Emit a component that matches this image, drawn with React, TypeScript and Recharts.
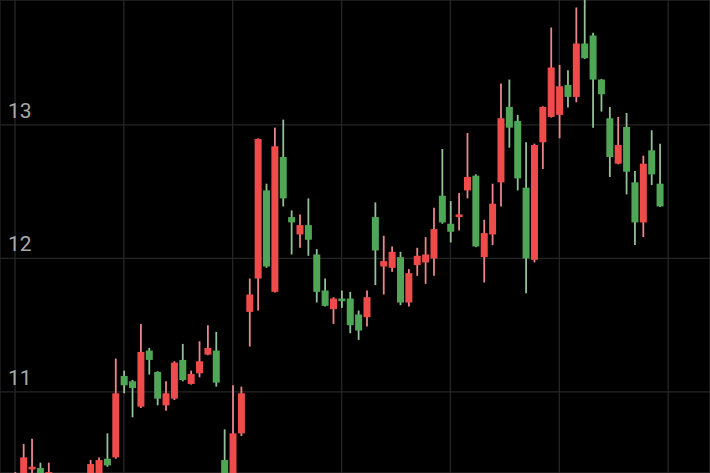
import { Bar, CartesianGrid, ComposedChart, XAxis, YAxis } from 'recharts';

// daily candles (index = trading day)
const opens = [
  10.25, 10.3, 10.42, 10.43, 10.3, 10.35, 10.15, 10.28, 10.18, 10.3,
  10.32, 10.5, 10.51, 11.12, 11.08, 10.89, 11.31, 11.15, 10.9, 10.95,
  11.24, 11.06, 11.14, 11.28, 11.31, 10.49, 10.3, 10.69, 11.6, 11.85,
  12.51, 11.75, 12.76, 12.31, 12.18, 12.25, 12.03, 11.76, 11.62, 11.7,
  11.7, 11.58, 11.56, 12.31, 11.94, 11.93, 12.01, 11.67, 11.95, 11.97,
  12.0, 12.47, 12.26, 12.31, 12.51, 12.62, 12.01, 12.18, 12.57, 13.135,
  13.03, 12.53, 11.99, 12.87, 13.06, 13.075, 13.3, 13.21, 13.61, 13.67,
  13.34, 13.05, 12.71, 12.985, 12.57, 12.27, 12.81, 12.56,
];
const highs = [
  10.4, 10.61, 10.65, 10.47, 10.47, 10.38, 10.33, 10.32, 10.36, 10.49,
  10.51, 10.69, 11.25, 11.16, 11.09, 11.51, 11.33, 11.155, 11.08, 11.23,
  11.36, 11.16, 11.38, 11.5, 11.45, 10.72, 11.05, 11.04, 11.85, 12.9,
  12.56, 12.98, 13.04, 12.36, 12.33, 12.45, 12.07, 11.85, 11.71, 11.76,
  11.75, 11.61, 11.76, 12.42, 12.17, 12.09, 12.05, 11.92, 12.08, 12.16,
  12.38, 12.82, 12.43, 12.49, 12.94, 12.63, 12.29, 12.56, 13.31, 13.34,
  13.075, 12.87, 12.86, 13.14, 13.73, 13.45, 13.41, 13.88, 14.05, 13.69,
  13.345, 13.135, 13.06, 13.09, 12.655, 12.77, 12.96, 12.86,
];
const lows = [
  10.2, 10.25, 10.35, 10.3, 10.25, 10.15, 10.1, 10.12, 10.15, 10.25,
  10.28, 10.44, 10.5, 10.99, 10.81, 10.88, 11.13, 10.9, 10.86, 10.94,
  11.08, 11.055, 11.11, 11.275, 11.04, 10.25, 10.25, 10.67, 11.34, 11.61,
  11.93, 11.745, 12.39, 12.03, 12.08, 12.02, 11.67, 11.64, 11.51, 11.63,
  11.44, 11.39, 11.49, 11.8, 11.73, 11.9, 11.65, 11.64, 11.87, 11.81,
  11.87, 12.26, 12.12, 12.21, 12.45, 12.085, 11.82, 12.1, 12.39, 12.83,
  12.51, 11.74, 11.97, 12.67, 13.055, 12.9, 13.13, 13.17, 13.495, 12.98,
  13.1, 12.61, 12.705, 12.48, 12.1, 12.16, 12.55, 12.385,
];
const closes = [
  10.36, 10.51, 10.44, 10.35, 10.4, 10.2, 10.28, 10.18, 10.3, 10.46,
  10.49, 10.45, 10.99, 11.05, 11.03, 11.3, 11.24, 10.95, 10.99, 11.22,
  11.09, 11.135, 11.23, 11.33, 11.07, 10.3, 10.69, 10.99, 11.73, 12.895,
  11.94, 12.84, 12.45, 12.27, 12.25, 12.14, 11.75, 11.645, 11.7, 11.68,
  11.5, 11.46, 11.71, 12.06, 11.98, 12.05, 11.67, 11.89, 12.02, 12.03,
  12.22, 12.27, 12.2, 12.33, 12.61, 12.09, 12.19, 12.41, 13.05, 12.98,
  12.6, 12.0, 12.85, 13.135, 13.43, 13.29, 13.21, 13.61, 13.5, 13.34,
  13.23, 12.76, 12.85, 12.65, 12.27, 12.71, 12.63, 12.39,
];

const priceTicks = [11, 12, 13];
const gridDays = [0, 13, 26, 39, 52, 65, 78];

const UP = '#ef4b4b';
const UP_WICK = '#e8858d';
const DOWN = '#4fa657';
const DOWN_WICK = '#93c098';

const data = opens.map((open, i) => ({
  day: i,
  open,
  high: highs[i],
  low: lows[i],
  close: closes[i],
  range: [lows[i], highs[i]],
}));

function Candle(props: any) {
  const { x, y, width, height, payload } = props;
  if (!payload) return null;
  const { open, close, high, low } = payload;
  const up = close >= open;
  const top = Math.min(y, y + height);
  const h = Math.abs(height);
  const k = h / (high - low);
  const bodyTop = top + (high - Math.max(open, close)) * k;
  const bodyH = Math.max(Math.abs(close - open) * k, 2);
  const cx = x + width / 2;
  return (
    <g>
      <line
        x1={cx}
        x2={cx}
        y1={top}
        y2={top + h}
        stroke={up ? UP_WICK : DOWN_WICK}
        strokeWidth={1.8}
      />
      <rect x={x} y={bodyTop} width={width} height={bodyH} fill={up ? UP : DOWN} />
    </g>
  );
}

function PriceTick(props: any) {
  const { y, payload } = props;
  return (
    <text x={8} y={y - 7} fill="#a9a9a9" fontSize={21} fontFamily="Roboto, sans-serif">
      {payload.value}
    </text>
  );
}

export default function App() {
  return (
    <div style={{ position: 'absolute', left: 0, top: 0, width: 710, height: 473, background: '#000' }}>
      <ComposedChart
        width={710}
        height={473}
        data={data}
        margin={{ top: 0, right: 0, bottom: 0, left: 0 }}
      >
        <CartesianGrid stroke="#262626" strokeWidth={1.3} />
        <XAxis
          dataKey="day"
          type="number"
          domain={[-1.79, 83.0]}
          ticks={gridDays}
          allowDataOverflow
          hide
        />
        <YAxis
          type="number"
          domain={[10.393, 13.936]}
          ticks={priceTicks}
          allowDataOverflow
          mirror
          axisLine={false}
          tickLine={false}
          tick={PriceTick}
        />
        <Bar dataKey="range" barSize={7} shape={<Candle />} isAnimationActive={false} />
      </ComposedChart>
    </div>
  );
}
